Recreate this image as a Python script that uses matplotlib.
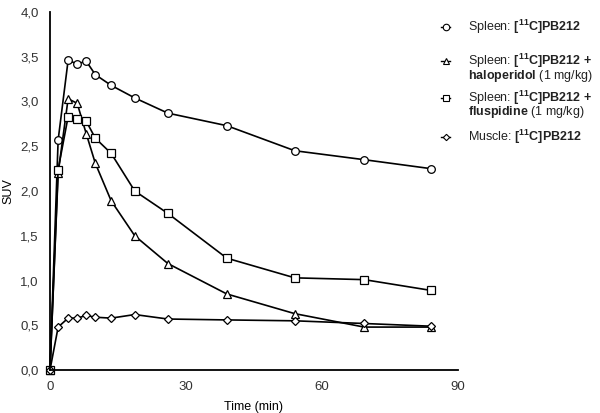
import matplotlib
matplotlib.use("Agg")
import matplotlib.pyplot as plt
from matplotlib.lines import Line2D
from matplotlib.ticker import FuncFormatter

plt.rcParams["font.family"] = ["Liberation Sans", "DejaVu Sans"]
plt.rcParams["mathtext.fontset"] = "custom"
plt.rcParams["mathtext.rm"] = "Liberation Sans"
plt.rcParams["mathtext.bf"] = "Liberation Sans:bold"

# time points (min)
time = [0, 1.8, 4, 6, 8, 10, 13.5, 18.7, 26, 39, 54, 69.3, 84]

spleen = [0, 2.57, 3.46, 3.42, 3.45, 3.30, 3.18, 3.04, 2.87, 2.73, 2.45, 2.35, 2.25]
spleen_halo = [0, 2.20, 3.03, 2.98, 2.64, 2.31, 1.89, 1.50, 1.19, 0.85, 0.63, 0.48, 0.48]
spleen_flus = [0, 2.24, 2.83, 2.80, 2.78, 2.59, 2.42, 2.00, 1.75, 1.25, 1.03, 1.01, 0.89]
muscle = [0, 0.48, 0.58, 0.58, 0.61, 0.59, 0.58, 0.62, 0.57, 0.56, 0.55, 0.52, 0.49]

x_ticks = [0, 30, 60, 90]
y_ticks = [0, 0.5, 1.0, 1.5, 2.0, 2.5, 3.0, 3.5, 4.0]

fig = plt.figure(figsize=(6.0, 4.13), dpi=100)
ax = fig.add_axes([0.0833, 0.104, 0.68, 0.867])

series = [
    (spleen, "o", 5.5),
    (spleen_halo, "^", 5.5),
    (spleen_flus, "s", 5.5),
    (muscle, "D", 3.8),
]
for values, marker, ms in series:
    ax.plot(time, values, color="black", linewidth=1.2, marker=marker,
            markersize=ms, markerfacecolor="white", markeredgecolor="black",
            markeredgewidth=0.9, clip_on=False)

ax.set_xlim(0, 90)
ax.set_ylim(0, 4.0)
ax.set_xticks(x_ticks)
ax.set_yticks(y_ticks)
ax.yaxis.set_major_formatter(FuncFormatter(lambda v, p: f"{v:.1f}".replace(".", ",")))
ax.tick_params(length=0, labelsize=9.5, pad=8, colors="#333333")
for side in ("top", "right"):
    ax.spines[side].set_visible(False)
for side in ("left", "bottom"):
    ax.spines[side].set_linewidth(1.3)
ax.set_xlabel("Time (min)", fontsize=9, labelpad=6)
ax.set_ylabel("SUV", fontsize=9, labelpad=4)

# legend drawn by hand so the marker sits on the first text line
legend_rows = [
    ("o", 5.5, 27, "Spleen: $\\mathbf{[^{11}C]PB212}$"),
    ("^", 5.5, 61, "Spleen: $\\mathbf{[^{11}C]PB212}$ $\\mathbf{+}$\n"
                   "$\\mathbf{haloperidol}$ (1 mg/kg)"),
    ("s", 5.5, 98, "Spleen: $\\mathbf{[^{11}C]PB212}$ $\\mathbf{+}$\n"
                   "$\\mathbf{fluspidine}$ (1 mg/kg)"),
    ("D", 3.8, 137, "Muscle: $\\mathbf{[^{11}C]PB212}$"),
]
H = 413.0
LINE_PX = 13.5
for marker, ms, ypx, label in legend_rows:
    y = 1 - ypx / H
    fig.add_artist(Line2D([0.735, 0.75], [y, y], transform=fig.transFigure,
                          color="black", linewidth=1.0))
    fig.add_artist(Line2D([0.7425], [y], transform=fig.transFigure,
                          linestyle="none", marker=marker, markersize=ms * 0.85,
                          markerfacecolor="white", markeredgecolor="black",
                          markeredgewidth=0.8))
    extra = label.count("\n") * LINE_PX
    fig.text(0.78, 1 - (ypx + 4 + extra) / H, label, fontsize=9, va="baseline",
             ha="left", color="#222222", linespacing=0.8)

fig.savefig("out.png", dpi=100)
